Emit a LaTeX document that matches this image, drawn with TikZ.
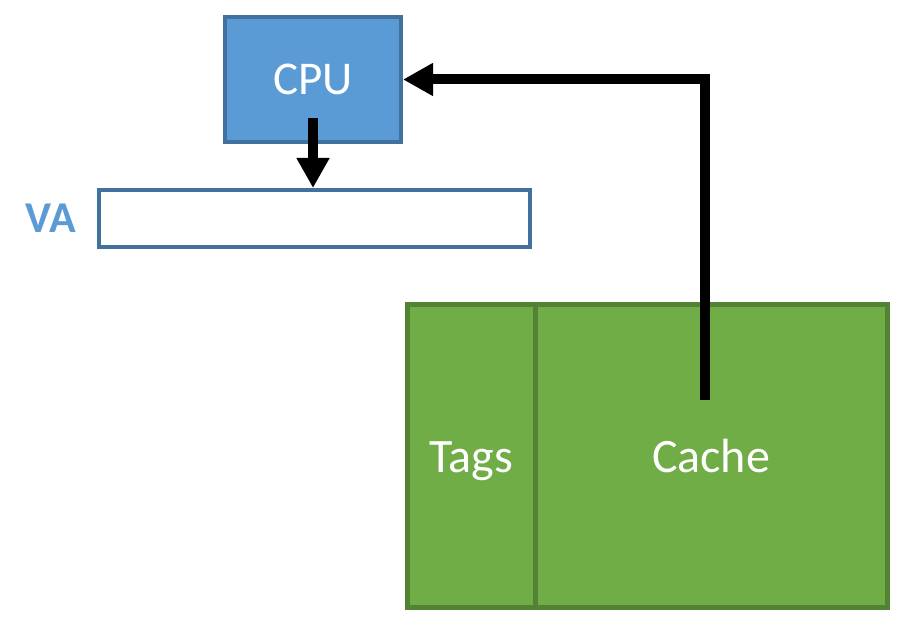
\documentclass[tikz,border=0pt]{standalone}
\usepackage{fontspec}
\setmainfont{Carlito}
\usetikzlibrary{arrows.meta}
\definecolor{cpufill}{HTML}{5B9BD5}
\definecolor{cpuline}{HTML}{41719C}
\definecolor{cfill}{HTML}{70AD47}
\definecolor{cline}{HTML}{548235}
\tikzset{
  cpubox/.style={draw=cpuline, fill=cpufill, line width=4pt, inner sep=0pt,
    text=white, font=\fontsize{47}{50}\selectfont},
  vabox/.style={draw=cpuline, fill=white, line width=4pt, inner sep=0pt},
  cachebox/.style={draw=cline, fill=cfill, line width=5pt, inner sep=0pt,
    text=white, font=\fontsize{48}{50}\selectfont, text height=35pt, text depth=3pt},
  bigarrow/.style={line width=10pt, -{Triangle[width=31pt,length=30pt]}}
}
\begin{document}
\begin{tikzpicture}[x=1pt,y=-1pt]
\useasboundingbox (0,0) rectangle (897,620);
\node[cpubox, minimum width=176pt, minimum height=125pt] (cpu) at (313,79.5) {CPU};
\node[vabox, minimum width=431pt, minimum height=57pt] (va) at (314.5,218.5) {};
\node[text=cpufill, font=\fontsize{44}{48}\selectfont\bfseries, anchor=east, inner sep=0pt] (valabel) at (76,218) {VA};
\node[cachebox, minimum width=352pt, minimum height=303pt] (cache) at (711,456) {Cache};
\node[cachebox, minimum width=128pt, minimum height=303pt] (tags) at (471,456) {Tags};
\coordinate (cpuout) at (313,118);
\coordinate (cacheout) at (705,400);
\draw[bigarrow] (cpuout) -- (va.north -| cpuout);
\draw[bigarrow] (cacheout) |- (cpu.east);
\end{tikzpicture}
\end{document}
